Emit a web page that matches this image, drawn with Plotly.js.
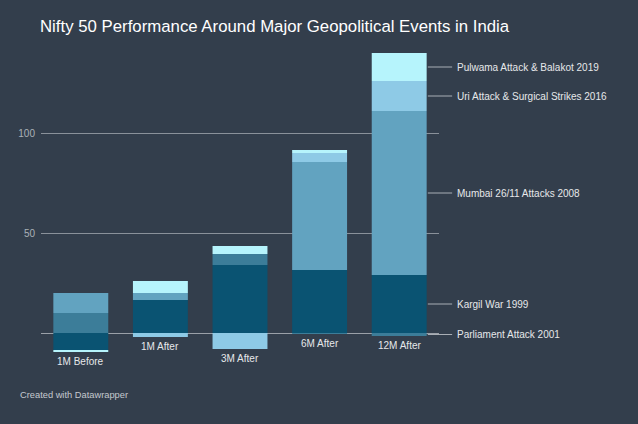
<!DOCTYPE html>
<html>
<head>
<meta charset="utf-8">
<script src="https://cdn.plot.ly/plotly-3.0.1.min.js"></script>
<style>
  html, body { margin: 0; padding: 0; background: #333e4c; }
  #chart { width: 638px; height: 424px; }
</style>
</head>
<body>
<div id="chart"></div>
<script>
const periods = ['1M Before', '1M After', '3M After', '6M After', '12M After'];

// % change per event
const kargil = [-8.5, 16.5, 34, 31.5, 29];
const parliament = [10, 0, 5.5, -0.5, -1.5];
const mumbai = [10, 3.5, 0, 54, 82];
const uri = [0, -2, -8, 4.5, 15];
const pulwama = [-1, 6, 4, 1.5, 14];

const seriesNames = [
  'Kargil War 1999',
  'Parliament Attack 2001',
  'Mumbai 26/11 Attacks 2008',
  'Uri Attack & Surgical Strikes 2016',
  'Pulwama Attack & Balakot 2019'
];
const seriesValues = [kargil, parliament, mumbai, uri, pulwama];
const seriesColors = ['#0a5372', '#3c7d99', '#62a3c0', '#8ecae6', '#b6f4fc'];

const textColor = '#e6e8ea';
const font = 'Liberation Sans, Arial, Helvetica, sans-serif';

const traces = seriesValues.map((vals, i) => ({
  type: 'bar',
  x: periods,
  y: vals,
  name: seriesNames[i],
  marker: {color: seriesColors[i], line: {width: 0}},
  hoverinfo: 'name+y'
}));

const annotations = [];
const shapes = [];

// category labels sit just under the lowest point of each bar
periods.forEach((p, j) => {
  let neg = 0;
  seriesValues.forEach(vals => { if (vals[j] < 0) neg += vals[j]; });
  annotations.push({
    x: p, y: neg, xref: 'x', yref: 'y',
    text: p, showarrow: false,
    yanchor: 'top', yshift: -2,
    font: {family: font, size: 10, color: textColor}
  });
});

// direct labels next to the last bar, at the middle of each segment
const last = periods.length - 1;
let posBase = 0, negBase = 0;
seriesValues.forEach((vals, i) => {
  const v = vals[last];
  let mid;
  if (v >= 0) { mid = posBase + v / 2; posBase += v; }
  else { mid = negBase + v / 2; negBase += v; }
  shapes.push({
    type: 'line', xref: 'paper', yref: 'y',
    x0: 0.972, x1: 1.033, y0: mid, y1: mid,
    line: {color: '#a9aeb5', width: 1}
  });
  annotations.push({
    x: 1.039, y: mid, xref: 'paper', yref: 'y',
    text: seriesNames[i], showarrow: false,
    xanchor: 'left', yanchor: 'middle',
    font: {family: font, size: 10, color: textColor}
  });
});

// footer, positioned in pixels relative to the plot area
annotations.push({
  x: (18 - 41) / 398, y: (424 - 64 - 395) / 310,
  xref: 'paper', yref: 'paper',
  text: 'Created with Datawrapper', showarrow: false,
  xanchor: 'left', yanchor: 'middle',
  font: {family: font, size: 9.3, color: '#c5c9cf'}
});

const layout = {
  width: 638,
  height: 424,
  margin: {l: 41, r: 199, t: 50, b: 64},
  paper_bgcolor: '#333e4c',
  plot_bgcolor: '#333e4c',
  barmode: 'relative',
  bargap: 0.31,
  showlegend: false,
  title: {
    text: 'Nifty 50 Performance Around Major Geopolitical Events in India',
    x: 40 / 638, xanchor: 'left',
    y: 1 - 26 / 424, yanchor: 'middle',
    font: {family: font, size: 16.8, color: '#ffffff'}
  },
  xaxis: {
    type: 'category',
    showticklabels: false,
    showgrid: false,
    zeroline: false,
    showline: false,
    ticks: ''
  },
  yaxis: {
    range: [-13.5, 141.5],
    tickvals: [0, 50, 100],
    ticktext: ['', '50', '100'],
    showgrid: true,
    gridcolor: '#8a919a',
    gridwidth: 1,
    zeroline: true,
    zerolinecolor: '#9aa0a8',
    zerolinewidth: 1,
    showline: false,
    ticks: '',
    ticklabelstandoff: 5,
    tickfont: {family: font, size: 10, color: '#aab0b7'}
  },
  annotations: annotations,
  shapes: shapes
};

Plotly.newPlot('chart', traces, layout, {displayModeBar: false, staticPlot: true});
</script>
</body>
</html>
